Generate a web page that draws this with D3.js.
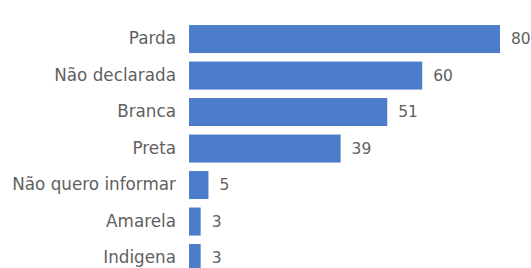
<!DOCTYPE html>
<html>
<head>
<meta charset="utf-8">
<script src="https://cdn.jsdelivr.net/npm/d3@7"></script>
<style>
  body { margin: 0; background: #fff; }
  svg { display: block; }
</style>
</head>
<body>
<svg id="chart"></svg>
<script>
// categories and counts
const categories = ["Parda", "Não declarada", "Branca", "Preta", "Não quero informar", "Amarela", "Indigena"];
const values = [80, 60, 51, 39, 5, 3, 3];

const width = 531;
const height = 268;
const margin = { top: 20.8, left: 189 };

const data = categories.map((c, i) => ({ cat: c, val: values[i] }));

const svg = d3.select("#chart")
  .attr("width", width)
  .attr("height", height);

//scales
const xScale = d3.scaleLinear()
  .domain([0, 80])
  .range([margin.left, 500]);

const yScale = d3.scaleBand()
  .domain(categories)
  .range([margin.top, margin.top + 36.5 * categories.length])
  .paddingInner(0.233)
  .paddingOuter(0.1165);

//bars
svg.append("g")
  .selectAll("rect")
  .data(data)
  .join("rect")
  .attr("x", xScale(0))
  .attr("y", d => yScale(d.cat))
  .attr("width", d => xScale(d.val) - xScale(0))
  .attr("height", yScale.bandwidth())
  .attr("fill", "#4c7dca");

//category axis, no line or ticks
const yAxis = svg.append("g")
  .attr("transform", `translate(${margin.left - 13}, 0)`)
  .call(d3.axisLeft(yScale).tickSize(0).tickPadding(0));
yAxis.select(".domain").remove();
yAxis.selectAll("text")
  .style("font-family", "'DejaVu Sans', Verdana, sans-serif")
  .style("font-size", "16.8px")
  .attr("fill", "#5f5f5f");

//value labels
svg.append("g")
  .selectAll("text")
  .data(data)
  .join("text")
  .attr("x", d => xScale(d.val) + 11)
  .attr("y", d => yScale(d.cat) + yScale.bandwidth() / 2)
  .attr("dy", "0.35em")
  .style("font-family", "'DejaVu Sans', Verdana, sans-serif")
  .style("font-size", "15.5px")
  .attr("fill", "#5f5f5f")
  .text(d => d.val);
</script>
</body>
</html>
